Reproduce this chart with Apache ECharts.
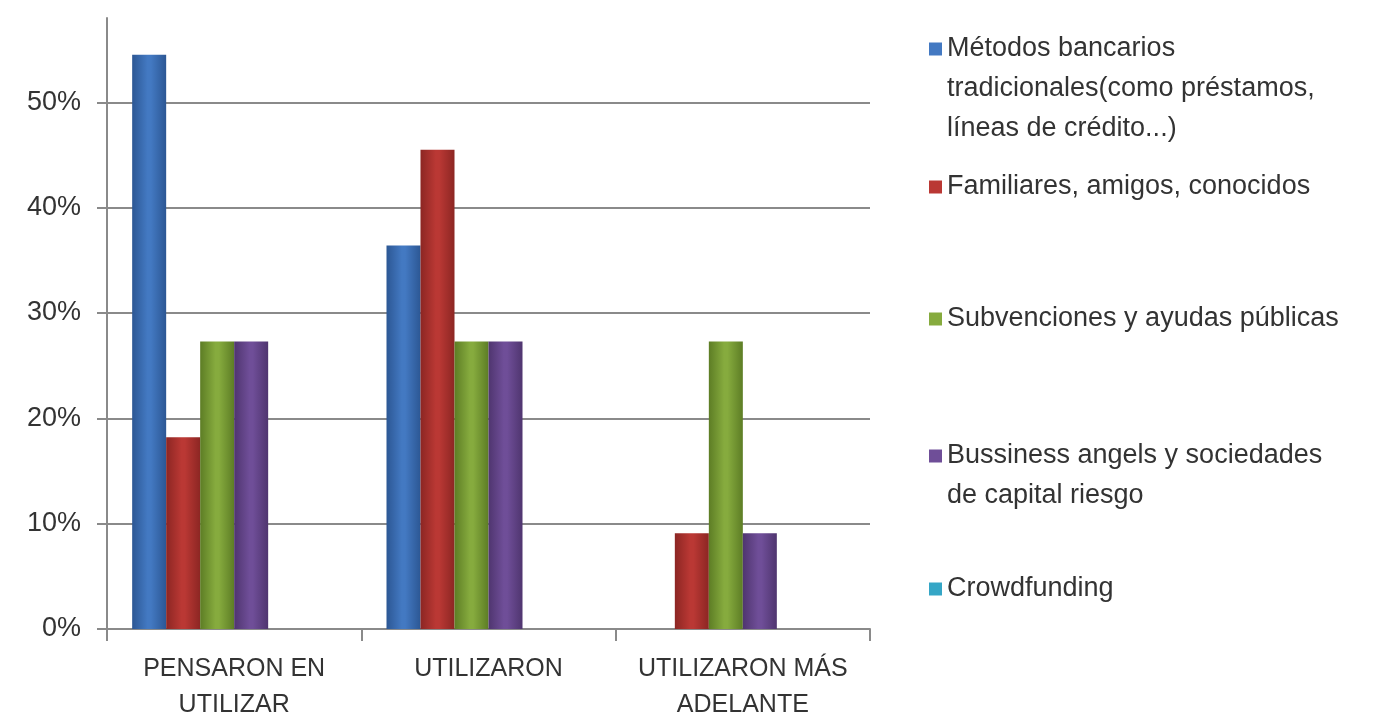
<!DOCTYPE html>
<html>
<head>
<meta charset="utf-8">
<script src="https://cdn.jsdelivr.net/npm/echarts@6/dist/echarts.min.js"></script>
<style>
html,body{margin:0;padding:0;background:#fff;}
#main{width:1395px;height:723px;}
</style>
</head>
<body>
<div id="main"></div>
<script>
// ---- data ----
var categories = ['PENSARON EN\nUTILIZAR', 'UTILIZARON', 'UTILIZARON MÁS\nADELANTE'];
var seriesNames = [
  'Métodos bancarios tradicionales(como préstamos, líneas de crédito...)',
  'Familiares, amigos, conocidos',
  'Subvenciones y ayudas públicas',
  'Bussiness angels y sociedades de capital riesgo',
  'Crowdfunding'
];
var legendLabels = [
  'Métodos bancarios\ntradicionales(como préstamos,\nlíneas de crédito...)',
  'Familiares, amigos, conocidos',
  'Subvenciones y ayudas públicas',
  'Bussiness angels y sociedades\nde capital riesgo',
  'Crowdfunding'
];
var metodosBancarios = [54.5, 36.4, 0];
var familiares = [18.2, 45.5, 9.1];
var subvenciones = [27.3, 27.3, 27.3];
var bussinessAngels = [27.3, 27.3, 9.1];
var crowdfunding = [0, 0, 0];
var yTicks = [0, 10, 20, 30, 40, 50];

// ---- styling ----
var colors = [
  ['#2c5794', '#4379c2'],
  ['#8c2623', '#ba3834'],
  ['#5d7d25', '#86ab3e'],
  ['#4f356f', '#6f4e98'],
  ['#1f7f9a', '#35a6c6']
];
function grad(c) {
  return new echarts.graphic.LinearGradient(0, 0, 1, 0, [
    {offset: 0, color: c[0]},
    {offset: 0.45, color: c[1]},
    {offset: 0.55, color: c[1]},
    {offset: 1, color: c[0]}
  ]);
}
var textColor = '#333333';
var axisColor = '#8a8a8a';
var font = 'Liberation Sans';

var dataSets = [metodosBancarios, familiares, subvenciones, bussinessAngels, crowdfunding];
var series = dataSets.map(function (d, i) {
  var s = {
    name: seriesNames[i],
    type: 'bar',
    data: d,
    barWidth: 34,
    barGap: '0%',
    itemStyle: {color: grad(colors[i])},
    emphasis: {disabled: true}
  };
  if (i === 0) {
    s.markLine = {
      silent: true,
      symbol: 'none',
      z: 1,
      label: {show: false},
      lineStyle: {color: axisColor, width: 2, type: 'solid'},
      data: yTicks.filter(function (v) { return v > 0; }).map(function (v) { return {yAxis: v}; })
    };
  }
  return s;
});
// empty spacer series (no values) reproducing the off-centre grouping of the original
series.push({name: 'spacer', type: 'bar', data: [], barWidth: 34, barGap: '0%'});

var legendTops = [-56, 162, 294, 391, 564];
var legends = seriesNames.map(function (n, i) {
  var lines = legendLabels[i].split('\n').length;
  var pad = '';
  for (var k = 1; k < lines; k++) pad += '\n';
  return {
    data: [{name: n, icon: 'rect', itemStyle: {color: colors[i][1]}}],
    left: 924,
    top: legendTops[i],
    orient: 'vertical',
    itemWidth: 13,
    itemHeight: 13,
    selectedMode: false,
    formatter: function () { return pad + legendLabels[i]; },
    textStyle: {fontFamily: font, fontSize: 27, color: textColor, lineHeight: 40}
  };
});

var chart = echarts.init(document.getElementById('main'));
chart.setOption({
  animation: false,
  backgroundColor: '#ffffff',
  color: colors.map(function (c) { return c[1]; }),
  grid: {left: 107, right: 525, top: 18, bottom: 92, containLabel: false},
  legend: legends,
  xAxis: {
    type: 'category',
    data: categories,
    boundaryGap: true,
    axisLine: {lineStyle: {color: axisColor, width: 2}},
    axisTick: {show: true, length: 12, lineStyle: {color: axisColor, width: 2}},
    axisLabel: {
      interval: 0, margin: 22, color: textColor, fontFamily: font, fontSize: 25, lineHeight: 36
    }
  },
  yAxis: {
    type: 'value',
    min: 0,
    max: 58,
    interval: 10,
    axisLine: {show: true, lineStyle: {color: axisColor, width: 2}},
    axisTick: {show: true, length: 10, lineStyle: {color: axisColor, width: 2}, customValues: yTicks},
    splitLine: {show: false},
    axisLabel: {
      customValues: yTicks,
      margin: 26, color: textColor, fontFamily: font, fontSize: 27,
      formatter: function (v) { return (v % 10 === 0) ? v + '%' : ''; }
    }
  },
  series: series
});
</script>
</body>
</html>
